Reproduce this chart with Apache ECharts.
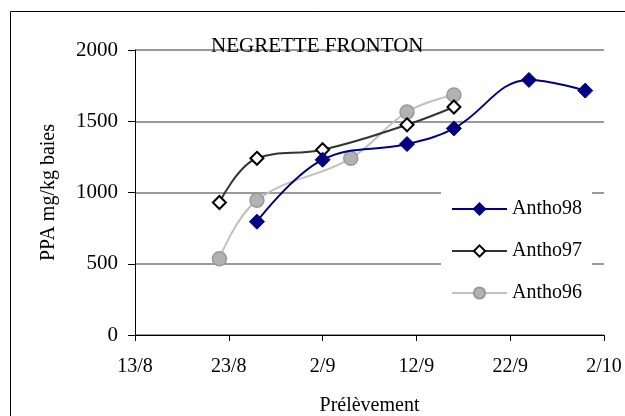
<!DOCTYPE html>
<html>
<head>
<meta charset="utf-8">
<script src="https://cdn.jsdelivr.net/npm/echarts@6/dist/echarts.min.js"></script>
<style>
html,body{margin:0;padding:0;background:#fff;}
#chart{width:625px;height:416px;}
</style>
</head>
<body>
<div id="chart"></div>
<script>
// ---- data ----
var chartTitle = 'NEGRETTE FRONTON';
var xTickLabels = ['13/8', '23/8', '2/9', '12/9', '22/9', '2/10'];
var originDate = '13/8';

var antho98Dates = ['26/8', '2/9', '11/9', '16/9', '24/9', '30/9'];
var antho98Values = [795, 1230, 1340, 1450, 1790, 1715];

var antho97Dates = ['22/8', '26/8', '2/9', '11/9', '16/9'];
var antho97Values = [930, 1240, 1300, 1475, 1600];

var antho96Dates = ['22/8', '26/8', '5/9', '11/9', '16/9'];
var antho96Values = [535, 945, 1240, 1565, 1685];

// ---- helpers ----
function dayIndex(s) {
  var p = s.split('/');
  return Date.UTC(2000, +p[1] - 1, +p[0]) / 86400000;
}
var origin = dayIndex(originDate);
function pairs(dates, vals) {
  return dates.map(function (d, i) { return [dayIndex(d) - origin, vals[i]]; });
}

var FONT = '"Liberation Serif", "Times New Roman", serif';

var chart = echarts.init(document.getElementById('chart'), null, {renderer: 'canvas'});
chart.setOption({
  animation: false,
  backgroundColor: '#fff',
  textStyle: {fontFamily: FONT, color: '#000'},
  title: {
    text: chartTitle,
    left: 211, top: 36, padding: 0,
    textStyle: {fontFamily: FONT, fontSize: 21, fontWeight: 'normal', color: '#000'}
  },
  graphic: [{
    type: 'rect', z: 100, silent: true,
    shape: {x: 10.5, y: 11.5, width: 700, height: 500},
    style: {fill: 'none', stroke: '#000', lineWidth: 1}
  }],
  grid: {left: 135, right: 21, top: 50, bottom: 81, containLabel: false, outerBoundsMode: 'none'},
  xAxis: {
    type: 'value', min: 0, max: 50, interval: 10,
    name: 'Prélèvement', nameLocation: 'middle', nameGap: 61,
    nameTextStyle: {fontFamily: FONT, fontSize: 20, color: '#000'},
    axisLine: {lineStyle: {color: '#000', width: 1}},
    axisTick: {show: true, inside: false, length: 6, lineStyle: {color: '#000'}},
    axisLabel: {
      margin: 22, fontFamily: FONT, fontSize: 20, color: '#000',
      formatter: function (v) { return xTickLabels[Math.round(v / 10)] || ''; }
    },
    splitLine: {show: false}
  },
  yAxis: {
    type: 'value', min: 0, max: 2000, interval: 500,
    name: 'PPA mg/kg baies', nameLocation: 'middle', nameGap: 76, nameRotate: 90,
    nameTextStyle: {fontFamily: FONT, fontSize: 20, color: '#000'},
    axisLine: {show: true, lineStyle: {color: '#000', width: 1}},
    axisTick: {show: true, inside: false, length: 7, lineStyle: {color: '#000'}},
    axisLabel: {
      margin: 17, fontFamily: FONT, fontSize: 21, color: '#000',
      formatter: function (v) { return String(v); }
    },
    splitLine: {show: true, lineStyle: {color: '#9a9a9a', width: 2}}
  },
  legend: {
    orient: 'vertical', left: 441, top: 185,
    backgroundColor: '#fff',
    padding: [14, 10, 14, 10],
    itemWidth: 55, itemHeight: 14, itemGap: 22,
    textStyle: {fontFamily: FONT, fontSize: 20, color: '#000', lineHeight: 20},
    data: ['Antho98', 'Antho97', 'Antho96']
  },
  series: [
    {
      name: 'Antho98', type: 'line', smooth: 0.4,
      data: pairs(antho98Dates, antho98Values),
      symbol: 'diamond', symbolSize: 15,
      lineStyle: {color: '#000080', width: 2},
      itemStyle: {color: '#000080', borderColor: '#000080', borderWidth: 1},
      z: 3
    },
    {
      name: 'Antho97', type: 'line', smooth: 0.4,
      data: pairs(antho97Dates, antho97Values),
      symbol: 'diamond', symbolSize: 13,
      lineStyle: {color: '#333333', width: 2},
      itemStyle: {color: '#ffffff', borderColor: '#000000', borderWidth: 2},
      z: 2
    },
    {
      name: 'Antho96', type: 'line', smooth: 0.4,
      data: pairs(antho96Dates, antho96Values),
      symbol: 'circle', symbolSize: 14,
      lineStyle: {color: '#c0c0c0', width: 2},
      itemStyle: {color: '#b2b2b2', borderColor: '#999999', borderWidth: 1.5},
      z: 1
    }
  ]
});
</script>
</body>
</html>
